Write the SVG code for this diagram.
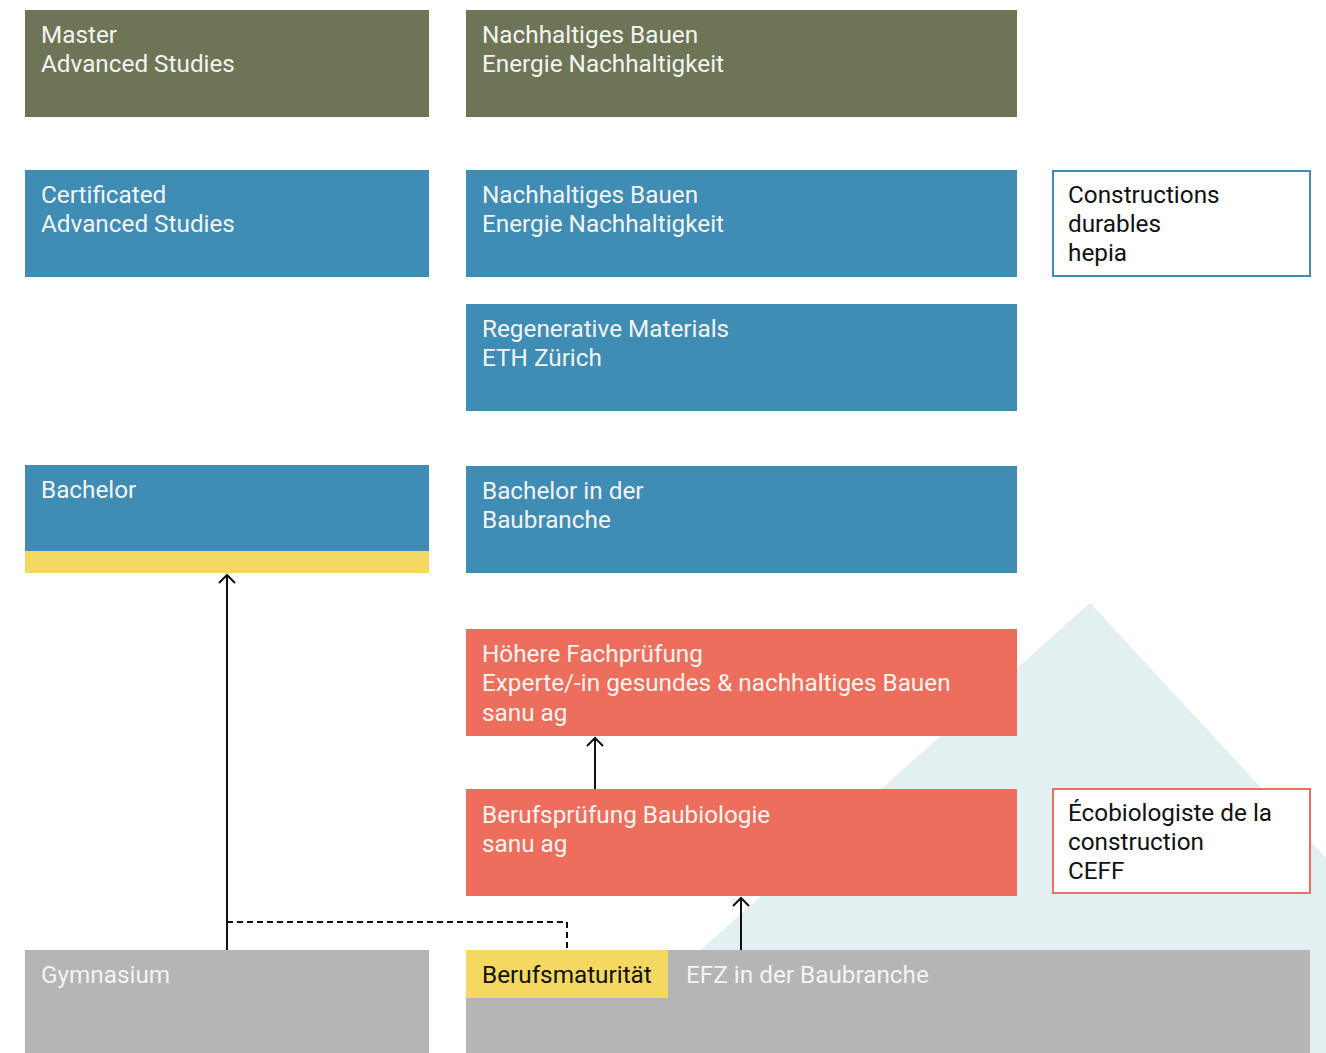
<svg xmlns="http://www.w3.org/2000/svg" width="1326" height="1053" viewBox="0 0 1326 1053">
<defs>
<style>
.t{font-family:Roboto,"Liberation Sans",sans-serif;font-size:24.3px;fill:#f4f4f0}
.d{font-family:Roboto,"Liberation Sans",sans-serif;font-size:24.3px;fill:#111}
.olive{fill:#6e7556}
.blue{fill:#3f8cb5}
.red{fill:#ee6e5e}
.gray{fill:#b5b5b5}
.yellow{fill:#f5d862}
.conn{stroke:#111;stroke-width:2;fill:none}
</style>
<marker id="ah" markerWidth="20" markerHeight="20" viewBox="-10 -10 20 20" refX="0" refY="0" orient="auto" markerUnits="userSpaceOnUse">
<path d="M-8,-8 L0,0 L-8,8" fill="none" stroke="#111" stroke-width="2"/>
</marker>
</defs>
<rect width="1326" height="1053" fill="#fff"/>
<polygon points="1090,603 1326,858 1326,1053 585,1053" fill="#e2f0f1"/>

<g id="master"><rect class="olive" x="25" y="10" width="404" height="107"/><text class="t" x="41" y="43">Master</text><text class="t" x="41" y="72">Advanced Studies</text></g>
<g id="mas-nb"><rect class="olive" x="466" y="10" width="551" height="107"/><text class="t" x="482" y="43">Nachhaltiges Bauen</text><text class="t" x="482" y="72">Energie Nachhaltigkeit</text></g>

<g id="cas"><rect class="blue" x="25" y="170" width="404" height="107"/><text class="t" x="41" y="203">Certificated</text><text class="t" x="41" y="232">Advanced Studies</text></g>
<g id="cas-nb"><rect class="blue" x="466" y="170" width="551" height="107"/><text class="t" x="482" y="203">Nachhaltiges Bauen</text><text class="t" x="482" y="232">Energie Nachhaltigkeit</text></g>
<g id="hepia"><rect x="1053" y="171" width="257" height="105" fill="#fff" stroke="#3f8cb5" stroke-width="2"/><text class="d" x="1068" y="203">Constructions</text><text class="d" x="1068" y="232">durables</text><text class="d" x="1068" y="261">hepia</text></g>
<g id="eth"><rect class="blue" x="466" y="304" width="551" height="107"/><text class="t" x="482" y="337">Regenerative Materials</text><text class="t" x="482" y="366">ETH Zürich</text></g>

<g id="bachelor"><rect class="blue" x="25" y="465" width="404" height="86"/><rect class="yellow" x="25" y="551" width="404" height="22"/><text class="t" x="41" y="498">Bachelor</text></g>
<g id="bachelor-bau"><rect class="blue" x="466" y="466" width="551" height="107"/><text class="t" x="482" y="499">Bachelor in der</text><text class="t" x="482" y="528">Baubranche</text></g>

<g id="hfp"><rect class="red" x="466" y="629" width="551" height="107"/><text class="t" x="482" y="662">Höhere Fachprüfung</text><text class="t" x="482" y="691">Experte/-in gesundes &amp; nachhaltiges Bauen</text><text class="t" x="482" y="721">sanu ag</text></g>
<g id="bp"><rect class="red" x="466" y="789" width="551" height="107"/><text class="t" x="482" y="823">Berufsprüfung Baubiologie</text><text class="t" x="482" y="852">sanu ag</text></g>
<g id="ceff"><rect x="1053" y="789" width="257" height="104" fill="#fff" stroke="#ee6e5e" stroke-width="2"/><text class="d" x="1068" y="821">Écobiologiste de la</text><text class="d" x="1068" y="850">construction</text><text class="d" x="1068" y="879">CEFF</text></g>

<g id="gymnasium"><rect class="gray" x="25" y="950" width="404" height="103"/><text class="t" x="41" y="983">Gymnasium</text></g>
<g id="efz"><rect class="gray" x="466" y="950" width="844" height="103"/><text class="t" x="686" y="983">EFZ in der Baubranche</text></g>
<g id="bm"><rect class="yellow" x="466" y="950" width="202" height="48"/><text class="d" x="482" y="983">Berufsmaturität</text></g>

<g id="connectors">
<line class="conn" x1="227" y1="950" x2="227" y2="575" marker-end="url(#ah)"/>
<polyline points="227,922 567,922 567,950" fill="none" stroke="#111" stroke-width="2" stroke-dasharray="6,4"/>
<line class="conn" x1="595" y1="789" x2="595" y2="738" marker-end="url(#ah)"/>
<line class="conn" x1="741" y1="950" x2="741" y2="898" marker-end="url(#ah)"/>
</g>
</svg>
